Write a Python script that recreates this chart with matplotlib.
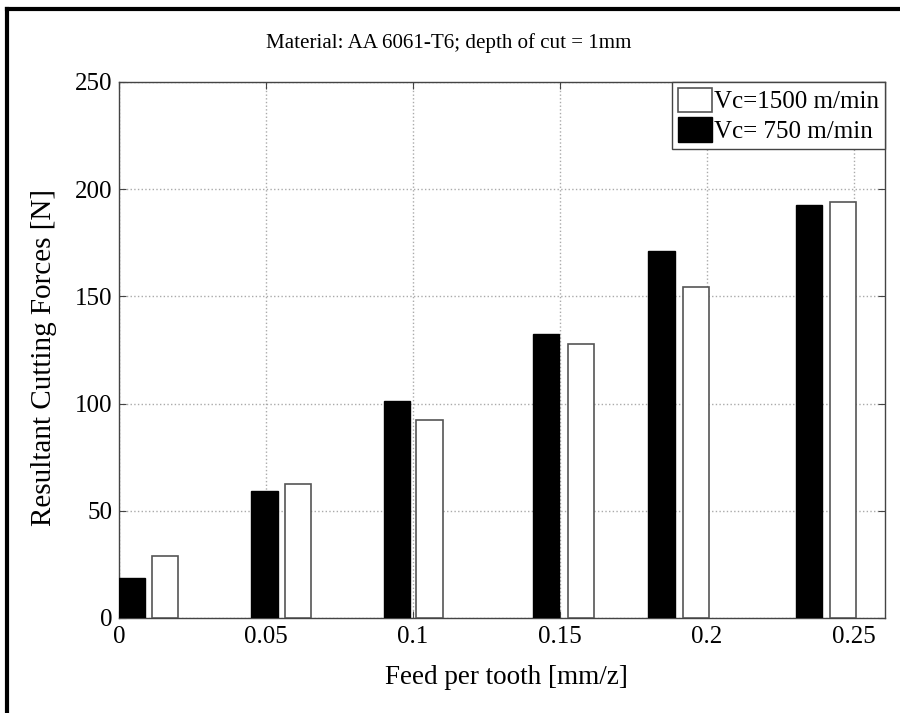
import matplotlib
matplotlib.use("Agg")
import matplotlib.pyplot as plt
from matplotlib.lines import Line2D
from matplotlib.patches import Patch

plt.rcParams['font.family'] = ['Liberation Serif', 'DejaVu Serif']

# Data
feed_ticks = [0, 0.05, 0.1, 0.15, 0.2, 0.25]
tick_labels = ['0', '0.05', '0.1', '0.15', '0.2', '0.25']
x_750 = [0.0044, 0.0495, 0.0946, 0.1451, 0.1845, 0.2347]
x_1500 = [0.0157, 0.0608, 0.1056, 0.1571, 0.1961, 0.2461]
force_750 = [18.7, 59.3, 101, 132.5, 171, 192.5]
force_1500 = [29, 62.6, 92.5, 128, 154.5, 194]
bar_width = 0.0089

W, H = 900, 713
fig = plt.figure(figsize=(9, 7.13), dpi=100)
ax = fig.add_axes([119/W, 1-618/H, (885-119)/W, (618-82)/H])

ax.bar(x_750, force_750, width=bar_width, color='black', edgecolor='black', linewidth=1, zorder=3)
ax.bar(x_1500, force_1500, width=bar_width, color='white', edgecolor='#555555', linewidth=1.2, zorder=3)

ax.set_xlim(0, 0.2605)
ax.set_ylim(0, 250)
ax.set_xticks(feed_ticks)
ax.set_xticklabels(tick_labels)
ax.set_yticks([0, 50, 100, 150, 200, 250])
ax.grid(True, linestyle=':', color='#aaaaaa', linewidth=1, zorder=0)
ax.set_axisbelow(True)
for s in ax.spines.values():
    s.set_color('#444444')
    s.set_linewidth(1)
ax.tick_params(direction='in', length=5, color='#444444', labelsize=18, top=True, right=True)
ax.tick_params(axis='x', pad=6)
ax.tick_params(axis='y', pad=5)

fig.text(449/W, 1-43/H, 'Material: AA 6061-T6; depth of cut = 1mm', fontsize=15.1,
         ha='center', va='center')
ax.set_xlabel('Feed per tooth [mm/z]', fontsize=19.5)
ax.xaxis.set_label_coords((506-119)/(885-119), -(677-618)/(618-82))
ax.xaxis.label.set_va('center')
ax.set_ylabel('Resultant Cutting Forces [N]', fontsize=21)
ax.yaxis.set_label_coords(-(119-44)/(885-119), (618-357)/(618-82))
ax.yaxis.label.set_va('center')

handles = [Patch(facecolor='white', edgecolor='#555555', linewidth=1.2),
           Patch(facecolor='black', edgecolor='black')]
leg = ax.legend(handles, ['Vc=1500 m/min', 'Vc= 750 m/min'], loc='upper right',
                bbox_to_anchor=(1, 1), borderaxespad=0, fontsize=18, fancybox=False,
                framealpha=1, edgecolor='#444444', handlelength=1.35, handleheight=1.15,
                handletextpad=0.12, borderpad=0.22, labelspacing=0.15)
leg.get_frame().set_linewidth(1)

# figure border (top and left)
fig.add_artist(Line2D([6.5/W, 1], [1-9/H, 1-9/H], color='black', linewidth=3, transform=fig.transFigure))
fig.add_artist(Line2D([6.5/W, 6.5/W], [0, 1-9/H], color='black', linewidth=3, transform=fig.transFigure))

fig.savefig('out.png', dpi=100)
